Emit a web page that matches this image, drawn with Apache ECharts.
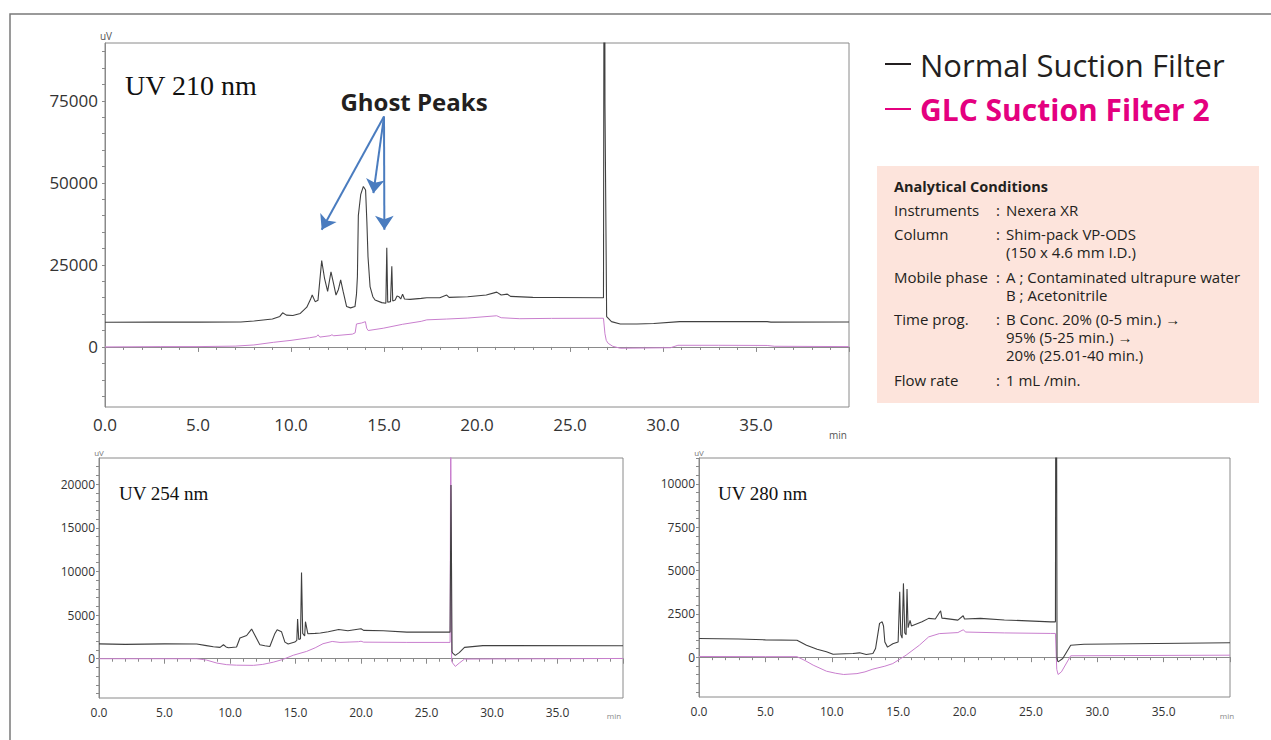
<!DOCTYPE html>
<html>
<head>
<meta charset="utf-8">
<script src="https://cdn.jsdelivr.net/npm/echarts@6/dist/echarts.min.js"></script>
<style>html,body{margin:0;padding:0;background:#fff;}#c{width:1271px;height:740px;}</style>
</head>
<body>
<div id="c"></div>
<script>
// ---------- DATA ----------
// UV 210 nm
const uv210Normal = [[0,7500],[2.7,7600],[5,7550],[7.3,7600],[8,7900],[9.0,8500],[9.4,9300],[9.55,10400],[9.75,9700],[10.1,9600],[10.5,10200],[10.85,12100],[11.05,14500],[11.14,15800],[11.3,13800],[11.45,14200],[11.65,26300],[11.8,21000],[11.97,16900],[12.15,22900],[12.28,19500],[12.42,15800],[12.55,17500],[12.67,20400],[12.8,17000],[12.99,12300],[13.2,11900],[13.44,12300],[13.52,16000],[13.57,21400],[13.62,40000],[13.75,46500],[13.89,48900],[14.01,47800],[14.08,38000],[14.14,27500],[14.25,18400],[14.4,15300],[14.52,14300],[14.88,13500],[15.1,13300],[15.15,30200],[15.2,13600],[15.35,13800],[15.42,24600],[15.47,14000],[15.6,14300],[15.7,15500],[15.8,15300],[15.9,14600],[16.0,16100],[16.1,14600],[16.4,14500],[17.0,14800],[17.3,15000],[18.0,15000],[18.37,15800],[18.5,15100],[19.5,15300],[20.5,15800],[21.06,16700],[21.3,15800],[21.63,16100],[21.8,15400],[23,15100],[24.1,15060],[26.8,15000],[26.85,200000],[26.88,74000],[26.97,9240],[27.23,7720],[27.7,7000],[28.6,7000],[29.5,7150],[30.9,7700],[33,7700],[35.6,7700],[35.8,7550],[40,7600]];
const uv210GLC = [[0,0],[3,100],[5,100],[7,250],[8,600],[9.05,1400],[10,2000],[11,2800],[11.37,3150],[11.45,3700],[11.55,3000],[12.1,3400],[12.2,3700],[12.3,3400],[13.3,3900],[13.45,4300],[13.52,7000],[13.8,7300],[14.0,7700],[14.07,5700],[14.15,5000],[14.96,5700],[16,6900],[17.0,7800],[17.3,8250],[18.37,8500],[19.5,8800],[21.06,9500],[21.3,8900],[22.3,8600],[24,8700],[26.8,8740],[26.88,4000],[26.95,2000],[27.05,1100],[27.3,200],[27.7,-400],[30.4,-250],[30.8,500],[33,500],[35.6,450],[36,200],[40,100]];
// UV 254 nm
const uv254Normal = [[0,1700],[2,1650],[5,1700],[7.46,1680],[8.2,1500],[8.73,1370],[9.24,1300],[9.5,1600],[9.7,1350],[9.88,1260],[10.5,1350],[10.76,2370],[11.27,2660],[11.65,3400],[11.9,2700],[12.28,1600],[12.66,1490],[13.04,1400],[13.43,2900],[13.6,3320],[13.93,3100],[14.19,1900],[14.44,1680],[14.95,1910],[15.1,2100],[15.16,4540],[15.25,2200],[15.38,2300],[15.46,9870],[15.55,2900],[15.7,2600],[15.76,4240],[15.94,2870],[16.5,2900],[16.9,2940],[17.5,3100],[18.3,3340],[19.0,3200],[20.0,3440],[20.2,3250],[21.7,3210],[23.5,3050],[26.8,3050],[26.87,19900],[26.95,800],[27.0,650],[27.2,380],[27.5,700],[27.9,1300],[29.3,1500],[40,1490]];
const uv254GLC = [[0,0],[5,0],[7.46,0],[8.2,-150],[9.0,-500],[9.75,-680],[10.5,-740],[11.78,-760],[12.5,-650],[13.3,-400],[14.0,-100],[14.83,400],[15.85,840],[16.5,1250],[17.1,1720],[17.8,1980],[18.4,1870],[19.8,1950],[20.0,2010],[20.2,1900],[23.5,1870],[26.8,1870],[26.85,30000],[26.92,-300],[27.0,-500],[27.2,-880],[27.5,-500],[27.9,-40],[40,30]];
// UV 280 nm
const uv280Normal = [[0,1080],[3,1050],[5,1000],[7.38,980],[8.1,690],[8.9,460],[9.6,310],[10.1,170],[11,200],[11.6,210],[12.1,250],[12.6,150],[13.1,210],[13.3,500],[13.4,980],[13.6,1950],[13.8,2040],[13.9,1800],[14.0,870],[14.2,580],[14.6,770],[15.0,870],[15.12,3780],[15.2,1300],[15.3,1100],[15.4,4260],[15.5,1400],[15.6,1300],[15.67,3930],[15.75,1700],[15.9,2120],[16.0,1800],[16.8,2040],[17.3,2240],[17.8,2200],[18.2,2680],[18.3,2250],[18.5,2240],[19.5,2140],[19.9,2390],[20.0,2200],[21.2,2240],[23,2150],[26.5,2040],[26.85,2040],[26.9,30000],[26.97,-100],[27.05,-270],[27.4,-80],[28.0,690],[29.0,750],[40,830]];
const uv280GLC = [[0,40],[5,30],[7.38,30],[8.0,-200],[8.6,-460],[9.6,-810],[10.3,-930],[10.9,-1000],[11.9,-950],[12.5,-850],[13.1,-690],[14,-520],[14.6,-370],[15.6,115],[16.6,690],[17.3,1170],[18.1,1360],[19.5,1420],[19.9,1580],[20.1,1450],[23,1400],[26.5,1370],[26.85,1370],[26.95,-700],[27.05,-1000],[27.3,-850],[28.0,80],[40,115]];
// ghost peak arrows: [from, to] in (min, uV)
const arrowFrom = [15.0, 70200];
const arrowTargets = [[11.65, 35700], [14.43, 46860], [15.02, 35700]];
// tick labels
const yTicks210 = [0, 25000, 50000, 75000];
const yMinor210 = [-15000,-10000,-5000,0,5000,10000,15000,20000,25000,30000,35000,40000,45000,50000,55000,60000,65000,70000,75000,80000,85000,90000];
const yTicks254 = [0, 5000, 10000, 15000, 20000];
const yMinor254 = [-4000,-3000,-2000,-1000,0,1000,2000,3000,4000,5000,6000,7000,8000,9000,10000,11000,12000,13000,14000,15000,16000,17000,18000,19000,20000,21000,22000];
const yTicks280 = [0, 2500, 5000, 7500, 10000];
const yMinor280 = [-2000,-1500,-1000,-500,0,500,1000,1500,2000,2500,3000,3500,4000,4500,5000,5500,6000,6500,7000,7500,8000,8500,9000,9500,10000,10500,11000,11500];
const seriesNames = ['Normal Suction Filter', 'GLC Suction Filter 2'];
const conditions = [
  ['Instruments', ['Nexera XR']],
  ['Column', ['Shim-pack VP-ODS', '(150 x 4.6 mm I.D.)']],
  ['Mobile phase', ['A ; Contaminated ultrapure water', 'B ; Acetonitrile']],
  ['Time prog.', ['B Conc. 20% (0-5 min.) \u2192', '95% (5-25 min.) \u2192', '20% (25.01-40 min.)']],
  ['Flow rate', ['1 mL /min.']]
];

// ---------- CHART ----------
const chart = echarts.init(document.getElementById('c'), null, {renderer: 'svg'});
const SANS = '"Open Sans", "Noto Sans", sans-serif';
const AX = '#8a8a8a';
const BLACK = '#404040';
const PINK = '#c97fce';

function xAxis(gi, fs, margin) {
  return {
    type: 'value', gridIndex: gi, min: 0, max: 40, interval: 5,
    axisLine: {show: true, lineStyle: {color: AX}},
    axisTick: {show: true, length: 5, lineStyle: {color: AX}},
    minorTick: {show: true, splitNumber: 5, length: 3, lineStyle: {color: AX}},
    splitLine: {show: false}, minorSplitLine: {show: false},
    axisLabel: {fontFamily: SANS, fontSize: fs, color: '#333', margin: margin,
      formatter: v => v >= 40 ? '' : v.toFixed(1)}
  };
}
function yAxis(gi, min, max, labels, ticks, fs, margin) {
  return {
    type: 'value', gridIndex: gi, min: min, max: max,
    axisLine: {show: true, lineStyle: {color: AX}},
    axisTick: {show: true, length: 3, customValues: ticks, lineStyle: {color: AX}},
    splitLine: {show: false},
    axisLabel: {fontFamily: SANS, fontSize: fs, color: '#333', margin: margin, customValues: labels,
      formatter: v => String(Math.round(v))}
  };
}
function line(name, data, xi, color, w, z) {
  return {
    name: name, type: 'line', xAxisIndex: xi, yAxisIndex: xi, data: data,
    showSymbol: false, symbol: 'none', clip: true, animation: false, z: z,
    lineStyle: {color: color, width: w}, emphasis: {disabled: true}
  };
}

const graphics = [];
function txt(x, y, text, font, fill, align, valign) {
  graphics.push({type: 'text', silent: true, style: {x: x, y: y, text: text, font: font, fill: fill,
    textAlign: align || 'left', textVerticalAlign: valign || 'middle', align: align || 'left', verticalAlign: valign || 'middle'}});
}
// outer frame
graphics.push({type: 'polyline', silent: true, shape: {points: [[10, 740], [10, 14], [1271, 14]]}, style: {stroke: '#7a7a7a', lineWidth: 1.5, fill: null}});
// axis units
txt(106, 36, 'uV', '10px ' + SANS, '#555', 'center');
txt(838, 435, 'min', '10px ' + SANS, '#555', 'center');
txt(99, 452, 'uV', '8px ' + SANS, '#777', 'center');
txt(614, 715, 'min', '8px ' + SANS, '#888', 'center');
txt(699, 452, 'uV', '8px ' + SANS, '#777', 'center');
txt(1227, 715, 'min', '8px ' + SANS, '#888', 'center');
// panel labels
txt(125, 85, 'UV 210 nm', '28px "Liberation Serif", "DejaVu Serif", serif', '#111');
txt(119, 493, 'UV 254 nm', '19px "Liberation Serif", "DejaVu Serif", serif', '#111');
txt(718, 493, 'UV 280 nm', '19px "Liberation Serif", "DejaVu Serif", serif', '#111');
txt(414, 101, 'Ghost Peaks', 'bold 24px ' + SANS, '#231f20', 'center');
// legend
graphics.push({type: 'line', silent: true, shape: {x1: 885, y1: 64, x2: 911, y2: 64}, style: {stroke: '#231f20', lineWidth: 2}});
graphics.push({type: 'line', silent: true, shape: {x1: 885, y1: 109, x2: 911, y2: 109}, style: {stroke: '#e4007f', lineWidth: 2}});
txt(920, 65, seriesNames[0], '31px ' + SANS, '#231f20');
txt(920, 109, seriesNames[1], 'bold 30px ' + SANS, '#e4007f');
// conditions box
graphics.push({type: 'rect', silent: true, shape: {x: 877, y: 166, width: 382, height: 237}, style: {fill: '#fde4dc'}});
txt(894, 186, 'Analytical Conditions', 'bold 14.5px ' + SANS, '#231f20');
const rowY = [[210], [234, 252], [277, 295], [319, 337, 355], [380]];
conditions.forEach((row, i) => {
  txt(894, rowY[i][0], row[0], '15px ' + SANS, '#231f20');
  txt(998, rowY[i][0], ':', '15px ' + SANS, '#231f20', 'center');
  row[1].forEach((v, j) => txt(1006, rowY[i][j], v, '15px ' + SANS, '#231f20'));
});

const black210 = line(seriesNames[0], uv210Normal, 0, BLACK, 1.1, 3);
black210.markLine = {
  silent: true, animation: false, symbol: ['none', 'arrow'], symbolSize: 14, precision: 2,
  lineStyle: {color: '#4a7cbf', width: 2, type: 'solid'}, label: {show: false}, emphasis: {disabled: true},
  data: arrowTargets.map(t => [{coord: arrowFrom}, {coord: t}])
};

chart.setOption({
  animation: false,
  backgroundColor: '#fff',
  grid: [
    {left: 105, top: 43, width: 744, height: 364, show: true, borderColor: AX, borderWidth: 1, containLabel: false},
    {left: 99, top: 458, width: 524, height: 240, show: true, borderColor: AX, borderWidth: 1, containLabel: false},
    {left: 699, top: 458, width: 531, height: 239, show: true, borderColor: AX, borderWidth: 1, containLabel: false}
  ],
  xAxis: [xAxis(0, 17, 9), xAxis(1, 12, 8), xAxis(2, 12, 8)],
  yAxis: [
    yAxis(0, -18300, 92600, yTicks210, yMinor210, 17, 7),
    yAxis(1, -4500, 23000, yTicks254, yMinor254, 12, 4),
    yAxis(2, -2300, 11500, yTicks280, yMinor280, 12, 4)
  ],
  series: [
    line(seriesNames[1], uv210GLC, 0, PINK, 1, 2),
    black210,
    line(seriesNames[1], uv254GLC, 1, PINK, 1, 2),
    line(seriesNames[0], uv254Normal, 1, BLACK, 1.1, 3),
    line(seriesNames[1], uv280GLC, 2, PINK, 1, 2),
    line(seriesNames[0], uv280Normal, 2, BLACK, 1.1, 3)
  ],
  graphic: graphics
});
</script>
</body>
</html>
